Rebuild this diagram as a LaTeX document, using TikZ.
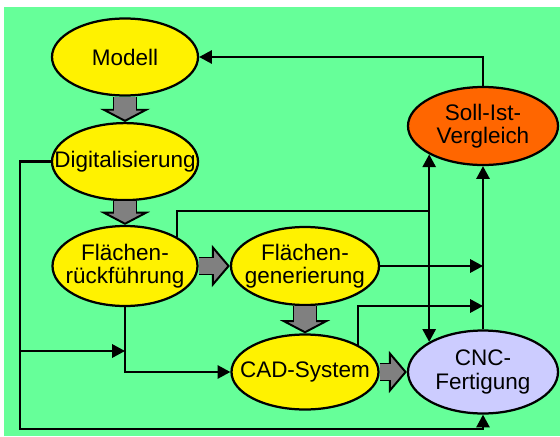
\documentclass[tikz,border=0pt]{standalone}
\usepackage{fontspec}
\setmainfont{Liberation Sans}
\usepackage{tikz}
\usetikzlibrary{shapes.geometric,arrows.meta}
\usepackage{xcolor}

\definecolor{bggreen}{HTML}{66FF99}
\definecolor{cncblue}{HTML}{CCCCFF}
\definecolor{sollorange}{HTML}{FF6600}

\tikzset{
  stage/.style={ellipse, draw=black, fill=yellow, align=center, inner sep=-2cm, font=\fontsize{16}{16.5}\selectfont},
  fatdown/.style={draw=gray, line width=0.55cm, shorten >=0.27cm,
    preaction={draw=black, line width=0.55cm+1.4pt, shorten >=0pt, -{Triangle[width=1.25cm,length=0.33cm,line width=1.4pt,fill=gray]}}},
  fatright/.style={draw=gray, line width=0.4cm, shorten >=0.39cm,
    preaction={draw=black, line width=0.4cm+1.4pt, shorten >=0pt, -{Triangle[width=1.05cm,length=0.45cm,line width=1.4pt,fill=gray]}}},
}

\begin{document}
\begin{tikzpicture}[line width=1.6pt, >={Triangle[length=0.32cm,width=0.33cm]}]

    \useasboundingbox (0,0) rectangle (14,10.9);
    \fill[white] (0,0) rectangle (14,10.9);
    \fill[bggreen] (0.1,0) rectangle (14,10.725);

    \node[stage, minimum width=3.65cm, minimum height=1.925cm] (Mo) at (3.125,9.475) {Modell};
    \node[stage, minimum width=3.65cm, minimum height=1.925cm] (Di) at (3.125,6.86) {Digitalisierung};
    \node[stage, minimum width=3.625cm, minimum height=2cm] (FlRu) at (3.125,4.25) {Flächen-\\rückführung};
    \node[stage, minimum width=3.7cm, minimum height=1.95cm] (FlGe) at (7.625,4.25) {Flächen-\\generierung};
    \node[stage, minimum width=3.675cm, minimum height=1.875cm] (CAD) at (7.625,1.6) {CAD-System};
    \node[stage, fill=cncblue, minimum width=3.75cm, minimum height=2.075cm] (CNC) at (12.075,1.6) {CNC-\\Fertigung};
    \node[stage, fill=sollorange, minimum width=3.75cm, minimum height=1.95cm] (SoIs) at (12.075,7.75) {Soll-Ist-\\Vergleich};

    \coordinate (RaLe) at (0.5,2.125);
    \coordinate (RaMi) at (10.75,5.625);
    \coordinate (RaCA) at (12.075,3.25);

    \draw[fatdown] (Mo) to (Di);
    \draw[fatdown] (Di) to (FlRu);
    \draw[fatright] (FlRu) to (FlGe);
    \draw[fatdown] (FlGe) to (CAD);
    \draw[fatright] (CAD) to (CNC);

    \draw[->] (SoIs.north) |- (Mo.east);
    \draw[->] (Di.west) -| (0.5,0.175) -| (CNC.south);
    \draw[->] (RaLe) -- (RaLe -| FlRu.south);
    \draw[->] (FlRu.south) |- (CAD.west);
    \draw (FlRu.north east) |- (RaMi);
    \draw[<->] (SoIs.south west) -- (CNC.north west);
    \draw[->] (CNC) to (SoIs);
    \draw[->] (FlGe.east) -- (FlGe.east -| CNC.north);
    \draw[->] (CAD.north east) |- (RaCA);

\end{tikzpicture}
\end{document}
